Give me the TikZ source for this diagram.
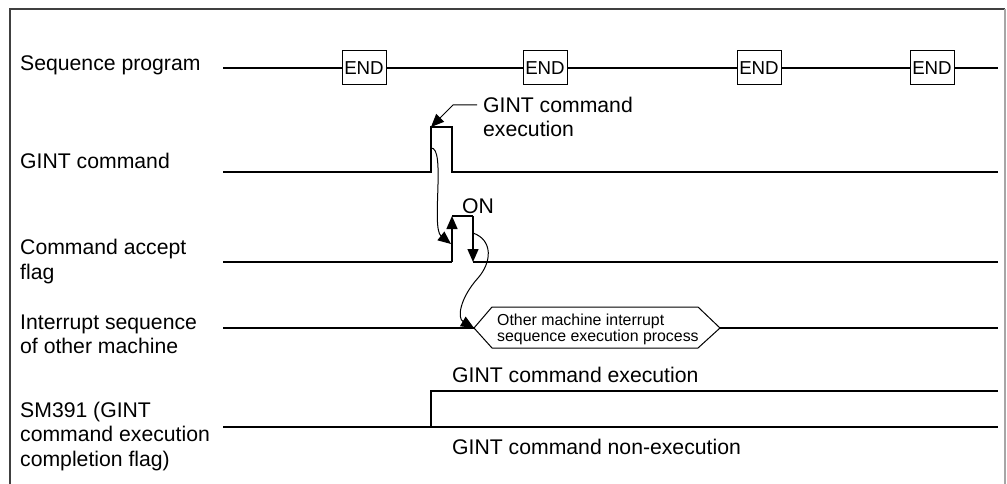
\documentclass[tikz,border=0pt]{standalone}
\usepackage{fontspec}
\setmainfont{Liberation Sans}
\usetikzlibrary{arrows.meta}
\begin{document}
\begin{tikzpicture}[x=1pt,y=-1pt,
  sig/.style={line width=1.4pt},
  thin/.style={line width=1pt},
  lbl/.style={anchor=base west,inner sep=0pt,font=\fontsize{21.2}{25}\selectfont},
  small/.style={anchor=base west,inner sep=0pt,font=\fontsize{15.9}{16}\selectfont},
  endbox/.style={draw,line width=1pt,minimum width=44pt,minimum height=34pt,inner sep=0pt,font=\fontsize{18.7}{20}\selectfont},
  tip/.style={-{Triangle[length=13pt,width=11pt]}},
]
\useasboundingbox (0,0) rectangle (1007,484);
% frame
\draw[line width=1.3pt,black!75] (10,484) -- (10,9) -- (1005,9);
\draw[line width=1.3pt,black!35] (1005,9) -- (1005,484);

% labels
\node[lbl] (l1) at (20,71) {Sequence program};
\node[lbl] (l2) at (20,168) {GINT command};
\node[lbl] (l3a) at (20,254.5) {Command accept};
\node[lbl] (l3b) at (20,279) {flag};
\node[lbl] (l4a) at (20,329) {Interrupt sequence};
\node[lbl] (l4b) at (20,353.5) {of other machine};
\node[lbl] (l5a) at (20,417) {SM391 (GINT};
\node[lbl] (l5b) at (20,441.5) {command execution};
\node[lbl] (l5c) at (20,466) {completion flag)};

% sequence program
\coordinate (s0) at (223,68);
\coordinate (s5) at (998,68);
\node[endbox] (e1) at (364,68) {END};
\node[endbox] (e2) at (545,68) {END};
\node[endbox] (e3) at (759,68) {END};
\node[endbox] (e4) at (932,68) {END};
\draw[sig] (s0) -- (e1.west) (e1.east) -- (e2.west) (e2.east) -- (e3.west) (e3.east) -- (e4.west) (e4.east) -- (s5);

% GINT command
\coordinate (g0) at (223,172);
\coordinate (g1) at (431,172);
\coordinate (g2) at (431,127);
\coordinate (g3) at (452,127);
\coordinate (g4) at (452,172);
\coordinate (g5) at (998,172);
\draw[sig] (g0) -- (g1) -- (g2) -- (g3) -- (g4) -- (g5);
\node[lbl] (ga) at (483,113) {GINT command};
\node[lbl] (gb) at (483,137) {execution};
\coordinate (ga0) at (477,105);
\coordinate (ga1) at (453,105);
\draw[thin,tip] (ga0) -- (ga1) -- (g2);

% command accept flag
\coordinate (c0) at (223,262);
\coordinate (c1) at (452,262);
\coordinate (c2) at (452,216);
\coordinate (c3) at (473,216);
\coordinate (c4) at (473,262);
\coordinate (c5) at (998,262);
\draw[sig] (c0) -- (c1);
\draw[sig,tip] (c1) -- (c2);
\draw[sig] (c2) -- (c3);
\draw[sig,tip] (c3) -- (c4);
\draw[sig] (c4) -- (c5);
\node[lbl] (on) at (462,213) {ON};

% curve GINT -> accept
\coordinate (k0) at (431,148);
\coordinate (k1) at (451,244);
\draw[thin,tip] (k0) .. controls (446,147) and (431,228) .. (k1);

% interrupt sequence
\coordinate (i0) at (223,328);
\coordinate (h1) at (474,328);
\coordinate (h2) at (492,307);
\coordinate (h3) at (698,307);
\coordinate (h4) at (720,328);
\coordinate (h5) at (698,348);
\coordinate (h6) at (492,348);
\coordinate (i5) at (998,328);
\draw[sig] (i0) -- (h1);
\draw[thin] (h1) -- (h2) -- (h3) -- (h4) -- (h5) -- (h6) -- cycle;
\draw[sig] (h4) -- (i5);
\node[small] (ha) at (497,325) {Other machine interrupt};
\node[small] (hb) at (497,341) {sequence execution process};

% curve accept -> interrupt
\coordinate (m0) at (473,233);
\coordinate (m1) at (478,278);
\draw[thin,tip] (m0) .. controls (493,240) and (492,262) .. (m1) .. controls (460,298) and (457,318) .. (h1);

% SM391
\coordinate (f0) at (223,427);
\coordinate (f1) at (431,427);
\coordinate (f2) at (431,391);
\coordinate (f3) at (998,391);
\coordinate (f4) at (998,427);
\draw[sig] (f0) -- (f4);
\draw[sig] (f1) -- (f2) -- (f3);
\node[lbl] (fa) at (452,382) {GINT command execution};
\node[lbl] (fb) at (452,454) {GINT command non-execution};
\end{tikzpicture}
\end{document}
